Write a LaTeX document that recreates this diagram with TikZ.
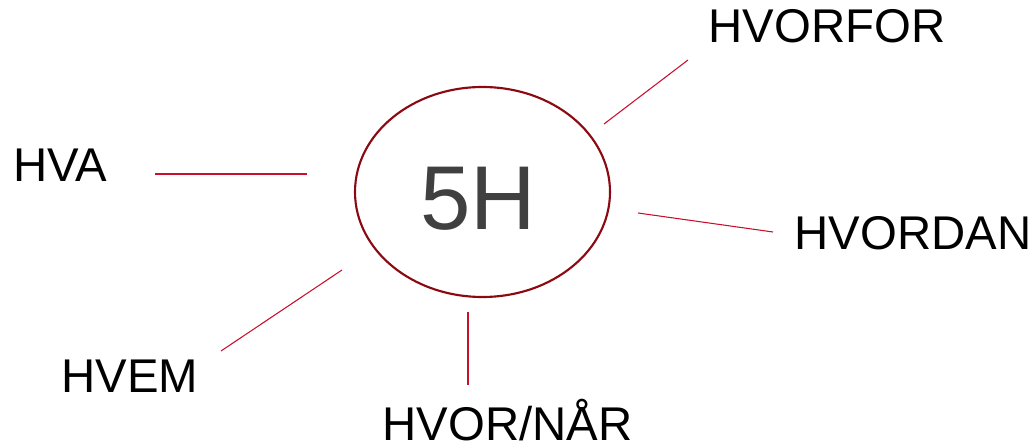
\documentclass[tikz,border=0pt]{standalone}
\usepackage{fontspec}
\setmainfont{Liberation Sans}
\usetikzlibrary{shapes.geometric}
\definecolor{ringred}{HTML}{8B0A12}
\definecolor{linered}{HTML}{C8102E}
\definecolor{textgray}{HTML}{404040}
\begin{document}
\begin{tikzpicture}[x=0.75pt,y=-0.75pt,
  lbl/.style={anchor=base,inner sep=0pt,font=\fontsize{35.5}{42}\selectfont,text=black},
  spoke/.style={draw=linered,line width=0.8pt},
  ring/.style={draw=ringred,line width=1.6pt,ellipse,minimum width=191.25pt,minimum height=157.5pt,inner sep=0pt}]
\useasboundingbox (0,0) rectangle (1035,445);
\node[ring] (c) at (482.5,192) {};
\node[anchor=base,inner sep=0pt,font=\fontsize{68}{80}\selectfont,text=textgray] (t) at (478,230) {5H};
\node[lbl] (hvorfor) at (827,43) {HVORFOR};
\node[lbl] (hva) at (60,182) {HVA};
\node[lbl] (hvem) at (130,392) {HVEM};
\node[lbl] (hvornar) at (507.5,440) {HVOR/NÅR};
\node[lbl] (hvordan) at (913,250) {HVORDAN};
\coordinate (a1) at (155,174); \coordinate (a2) at (307,174);
\coordinate (b1) at (221,351); \coordinate (b2) at (342,270);
\coordinate (d1) at (604,124); \coordinate (d2) at (688,60);
\coordinate (e1) at (638,213); \coordinate (e2) at (773,232);
\coordinate (f1) at (468,312); \coordinate (f2) at (468,385);
\draw[spoke] (a1) -- (a2);
\draw[spoke] (b1) -- (b2);
\draw[spoke] (d1) -- (d2);
\draw[spoke] (e1) -- (e2);
\draw[spoke] (f1) -- (f2);
\end{tikzpicture}
\end{document}
